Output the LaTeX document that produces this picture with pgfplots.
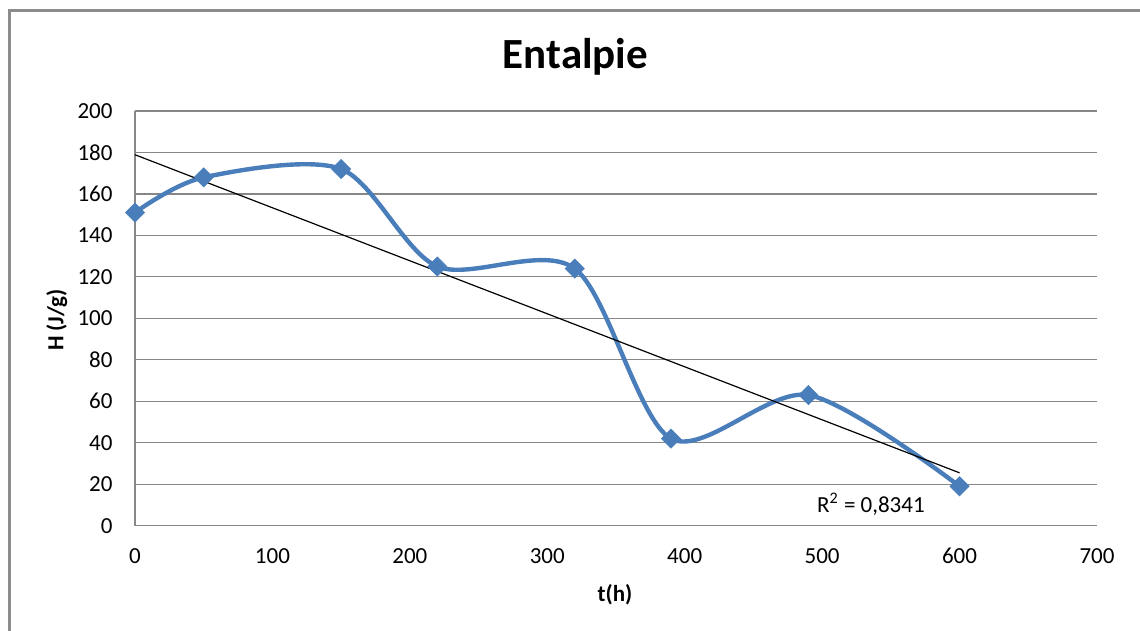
\documentclass[border=0pt]{standalone}
\usepackage{fontspec}
\setmainfont{Carlito}
\usepackage{pgfplots}
\pgfplotsset{compat=1.18}
\definecolor{serieblue}{HTML}{4A7EBB}
\definecolor{gridgray}{HTML}{878787}
\definecolor{framegray}{HTML}{8C8C8C}

\begin{document}
\begin{tikzpicture}
\path[use as bounding box] (0,0) rectangle (570bp,315.5bp);
% chart area frame (only left and top edges fall inside the page)
\draw[framegray, line width=1.3bp] (4.6bp,-20bp) -- (4.6bp,310.35bp) -- (620bp,310.35bp);

\begin{axis}[
  scale only axis, width=481bp, height=207.35bp,
  at={(67.5bp,52.65bp)}, anchor=south west,
  xmin=0, xmax=700, ymin=0, ymax=200,
  xtick={0,100,...,700}, ytick={0,20,...,200},
  axis x line*=bottom, axis y line*=left,
  axis line style={gridgray, line width=0.6bp, -},
  ymajorgrids, grid style={gridgray, line width=0.6bp},
  major tick length=0pt,
  tick label style={font=\fontsize{11.5bp}{13bp}\selectfont, text=black},
  /pgf/number format/assume math mode=true,
  xticklabel style={yshift=-7.7bp},
  yticklabel style={xshift=-7.7bp},
  clip=false,
]
\addplot[serieblue, line width=2.2bp, smooth, tension=0.5,
  mark=square*, mark size=3.4bp,
  mark options={rotate=45, solid, fill=serieblue, draw=serieblue, line width=0.3bp}]
  coordinates {(0,151) (50,168) (150,172) (220,125) (320,124) (390,42) (490,63) (600,19)};
% linear trend line
\addplot[black, line width=0.6bp] coordinates {(0,178.9) (600,25.5)};
\node[anchor=base, font=\fontsize{11.5bp}{13bp}\selectfont] at (axis cs:535.5,6.3) {R\textsuperscript{2} = 0,8341};
\end{axis}

\node[anchor=base, font=\fontsize{21.5bp}{25bp}\selectfont\bfseries] at (287.75bp,281.35bp) {Entalpie};
\node[rotate=90, font=\fontsize{11.5bp}{13bp}\selectfont\bfseries] at (28.35bp,155.5bp) {H (J/g)};
\node[anchor=base, font=\fontsize{11.5bp}{13bp}\selectfont\bfseries] at (307.5bp,14.65bp) {t(h)};
\end{tikzpicture}
\end{document}
